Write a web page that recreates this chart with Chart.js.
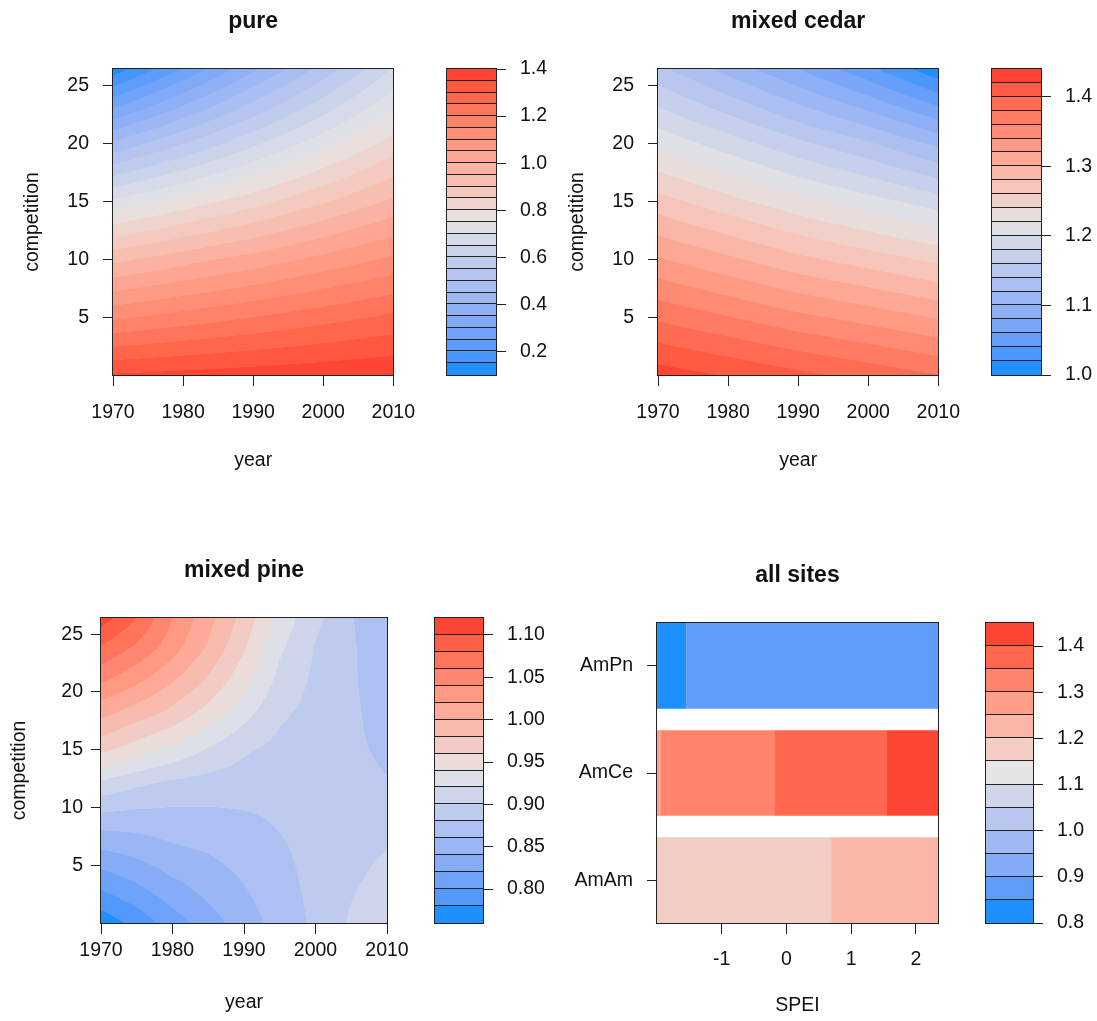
<!DOCTYPE html>
<html>
<head>
<meta charset="utf-8">
<title>Filled contour panels</title>
<script src="https://cdn.jsdelivr.net/npm/chart.js@4.4.1/dist/chart.umd.min.js"></script>
<style>
  html, body { margin:0; padding:0; background:#ffffff; }
  body { width:1097px; height:1021px; position:relative; overflow:hidden; }
  canvas { position:absolute; display:block; }
</style>
</head>
<body>
<canvas id="main1"></canvas>
<canvas id="key1"></canvas>
<canvas id="main2"></canvas>
<canvas id="key2"></canvas>
<canvas id="main3"></canvas>
<canvas id="key3"></canvas>
<canvas id="main4"></canvas>
<canvas id="key4"></canvas>
<script>
// ================= DATA =================
const panelTitles = ['pure', 'mixed cedar', 'mixed pine', 'all sites'];
const yearTicks = [1970, 1980, 1990, 2000, 2010];
const yearTickLabels = ['1970', '1980', '1990', '2000', '2010'];
const competitionTicks = [5, 10, 15, 20, 25];
const competitionTickLabels = ['5', '10', '15', '20', '25'];

// grid for "pure" and "mixed cedar": columns = years, rows = competition
const yearsA = [1970, 1980, 1990, 2000, 2010];
const competitionA = [0, 5, 10, 15, 20, 26.45];
const pureZ = [
  [1.355, 1.365, 1.375, 1.385, 1.395],
  [1.14,  1.17,  1.20,  1.23,  1.26 ],
  [0.935, 0.98,  1.02,  1.065, 1.11 ],
  [0.71,  0.77,  0.83,  0.895, 0.96 ],
  [0.46,  0.55,  0.64,  0.73,  0.82 ],
  [0.12,  0.255, 0.39,  0.52,  0.655]
];
const cedarZ = [
  [1.430, 1.418, 1.405, 1.393, 1.380],
  [1.376, 1.361, 1.345, 1.332, 1.318],
  [1.322, 1.304, 1.285, 1.270, 1.255],
  [1.268, 1.247, 1.226, 1.208, 1.190],
  [1.214, 1.190, 1.165, 1.143, 1.115],
  [1.145, 1.113, 1.080, 1.045, 1.005]
];

// grid for "mixed pine"
const yearsB = [1970, 1975, 1980, 1985, 1990, 1995, 2000, 2005, 2010];
const competitionB = [0, 3, 6, 9, 12, 15, 18, 21, 24, 26.4];
const pineZ = [
  [0.767, 0.787, 0.810, 0.831, 0.850, 0.868, 0.884, 0.903, 0.912],
  [0.801, 0.816, 0.833, 0.847, 0.859, 0.873, 0.885, 0.898, 0.909],
  [0.835, 0.844, 0.855, 0.860, 0.868, 0.877, 0.886, 0.893, 0.901],
  [0.872, 0.871, 0.872, 0.874, 0.877, 0.882, 0.887, 0.888, 0.893],
  [0.914, 0.903, 0.895, 0.891, 0.889, 0.887, 0.888, 0.885, 0.881],
  [0.965, 0.950, 0.935, 0.918, 0.903, 0.894, 0.890, 0.883, 0.877],
  [1.004, 0.988, 0.972, 0.951, 0.926, 0.903, 0.893, 0.883, 0.873],
  [1.043, 1.025, 1.002, 0.977, 0.947, 0.914, 0.896, 0.882, 0.871],
  [1.080, 1.058, 1.030, 0.998, 0.963, 0.924, 0.899, 0.882, 0.869],
  [1.110, 1.080, 1.040, 1.007, 0.973, 0.933, 0.905, 0.881, 0.867]
];

// contour levels (colour key breaks)
const pureLevels  = [0.10,0.15,0.20,0.25,0.30,0.35,0.40,0.45,0.50,0.55,0.60,0.65,0.70,0.75,0.80,0.85,0.90,0.95,1.00,1.05,1.10,1.15,1.20,1.25,1.30,1.35,1.40];
const cedarLevels = [1.00,1.02,1.04,1.06,1.08,1.10,1.12,1.14,1.16,1.18,1.20,1.22,1.24,1.26,1.28,1.30,1.32,1.34,1.36,1.38,1.40,1.42,1.44];
const pineLevels  = [0.76,0.78,0.80,0.82,0.84,0.86,0.88,0.90,0.92,0.94,0.96,0.98,1.00,1.02,1.04,1.06,1.08,1.10,1.12];
const allLevels   = [0.80,0.85,0.90,0.95,1.00,1.05,1.10,1.15,1.20,1.25,1.30,1.35,1.40,1.45];

// colour key tick labels
const pureKeyTicks  = [0.2, 0.4, 0.6, 0.8, 1.0, 1.2, 1.4];
const pureKeyLabels = ['0.2', '0.4', '0.6', '0.8', '1.0', '1.2', '1.4'];
const cedarKeyTicks  = [1.0, 1.1, 1.2, 1.3, 1.4];
const cedarKeyLabels = ['1.0', '1.1', '1.2', '1.3', '1.4'];
const pineKeyTicks  = [0.80, 0.85, 0.90, 0.95, 1.00, 1.05, 1.10];
const pineKeyLabels = ['0.80', '0.85', '0.90', '0.95', '1.00', '1.05', '1.10'];
const allKeyTicks  = [0.8, 0.9, 1.0, 1.1, 1.2, 1.3, 1.4];
const allKeyLabels = ['0.8', '0.9', '1.0', '1.1', '1.2', '1.3', '1.4'];

// "all sites": SPEI segments per site
const sites = ['AmAm', 'AmCe', 'AmPn'];
const sitePositions = [1, 2, 3];
const speiTicks = [-1, 0, 1, 2];
const speiTickLabels = ['-1', '0', '1', '2'];
const amAmBreaks = [-2.0, 0.69, 2.34];
const amAmValues = [1.17, 1.22];
const amCeBreaks = [-2.0, -1.94, -0.19, 1.54, 2.34];
const amCeValues = [1.28, 1.32, 1.37, 1.42];
const amPnBreaks = [-2.0, -1.55, 2.34];
const amPnValues = [0.82, 0.87];

// ================= STYLE HELPERS =================
const FONT = '"Liberation Sans", Arial, Helvetica, sans-serif';
const TXT = '#111111';
const AX = '#222222';
const fnt = (size, weight) => ({ family: FONT, size: size, weight: weight || 'normal', lineHeight: 1.2 });
Chart.defaults.font.family = FONT;
Chart.defaults.color = TXT;

const paletteAnchors = ['#1E90FF', '#E5E5E5', '#FF4632'];

function hexToRgb(h) { return [parseInt(h.slice(1,3),16), parseInt(h.slice(3,5),16), parseInt(h.slice(5,7),16)]; }
function s2l(c) { c /= 255; return c <= 0.04045 ? c / 12.92 : Math.pow((c + 0.055) / 1.055, 2.4); }
function l2s(v) { v = Math.max(0, Math.min(1, v)); const c = v <= 0.0031308 ? 12.92 * v : 1.055 * Math.pow(v, 1/2.4) - 0.055; return Math.round(Math.max(0, Math.min(1, c)) * 255); }
function rgbToLab(rgb) {
  const R = s2l(rgb[0]), G = s2l(rgb[1]), B = s2l(rgb[2]);
  const X = (0.4124*R + 0.3576*G + 0.1805*B) / 0.95047;
  const Y = (0.2126*R + 0.7152*G + 0.0722*B);
  const Z = (0.0193*R + 0.1192*G + 0.9505*B) / 1.08883;
  const f = t => t > 0.008856 ? Math.cbrt(t) : 7.787*t + 16/116;
  const fx = f(X), fy = f(Y), fz = f(Z);
  return [116*fy - 16, 500*(fx - fy), 200*(fy - fz)];
}
function labToRgb(lab) {
  const fy = (lab[0] + 16) / 116, fx = fy + lab[1] / 500, fz = fy - lab[2] / 200;
  const fi = t => (t*t*t > 0.008856) ? t*t*t : (t - 16/116) / 7.787;
  const X = fi(fx) * 0.95047, Y = fi(fy), Z = fi(fz) * 1.08883;
  return [l2s(3.2406*X - 1.5372*Y - 0.4986*Z), l2s(-0.9689*X + 1.8758*Y + 0.0415*Z), l2s(0.0557*X - 0.2040*Y + 1.0570*Z)];
}
const anchorLab = paletteAnchors.map(h => rgbToLab(hexToRgb(h)));
function rampColor(t) {
  const seg = t <= 0.5 ? 0 : 1;
  const u = seg === 0 ? t / 0.5 : (t - 0.5) / 0.5;
  const a = anchorLab[seg], b = anchorLab[seg + 1];
  return labToRgb([a[0] + (b[0]-a[0])*u, a[1] + (b[1]-a[1])*u, a[2] + (b[2]-a[2])*u]);
}
function bandColors(n) { const out = []; for (let i = 0; i < n; i++) out.push(rampColor(n === 1 ? 0 : i / (n - 1))); return out; }
const css = c => 'rgb(' + c[0] + ',' + c[1] + ',' + c[2] + ')';
function bandIndex(levels, v) {
  const n = levels.length - 1;
  if (v < levels[0]) return 0;
  for (let k = 0; k < n; k++) if (v < levels[k + 1]) return k;
  return n - 1;
}
function locate(arr, v) {
  const n = arr.length;
  if (v <= arr[0]) return [0, 0];
  if (v >= arr[n - 1]) return [n - 2, 1];
  let i = 0; while (i < n - 2 && v > arr[i + 1]) i++;
  return [i, (v - arr[i]) / (arr[i + 1] - arr[i])];
}
function gridValue(g, xv, yv) {
  const a = locate(g.xs, xv), b = locate(g.ys, yv);
  const i = a[0], tx = a[1], j = b[0], ty = b[1];
  return g.z[j][i]*(1-tx)*(1-ty) + g.z[j][i+1]*tx*(1-ty) + g.z[j+1][i]*(1-tx)*ty + g.z[j+1][i+1]*tx*ty;
}

// ================= PLUGINS =================
const contourPlugin = {
  id: 'contourFill',
  beforeDatasetsDraw(chart) {
    const ds = chart.data.datasets[0];
    const g = ds && ds.contourGrid;
    if (!g) return;
    const ctx = chart.ctx, a = chart.chartArea, x = chart.scales.x, y = chart.scales.y;
    const L = Math.round(a.left), T = Math.round(a.top);
    const W = Math.round(a.right) - L, H = Math.round(a.bottom) - T;
    const img = ctx.createImageData(W, H), d = img.data;
    const xv = [];
    for (let i = 0; i < W; i++) xv.push(x.getValueForPixel(L + i + 0.5));
    for (let j = 0; j < H; j++) {
      const yv = y.getValueForPixel(T + j + 0.5);
      for (let i = 0; i < W; i++) {
        const c = g.colors[bandIndex(g.levels, gridValue(g, xv[i], yv))];
        const p = (j * W + i) * 4;
        d[p] = c[0]; d[p+1] = c[1]; d[p+2] = c[2]; d[p+3] = 255;
      }
    }
    const off = document.createElement('canvas');
    off.width = W; off.height = H;
    off.getContext('2d').putImageData(img, 0, 0);
    ctx.drawImage(off, L, T);
  }
};
const boxPlugin = {
  id: 'plotBox',
  afterDraw(chart) {
    const ctx = chart.ctx, a = chart.chartArea;
    const L = Math.round(a.left), T = Math.round(a.top), R = Math.round(a.right), B = Math.round(a.bottom);
    ctx.save(); ctx.strokeStyle = AX; ctx.lineWidth = 1;
    ctx.strokeRect(L - 0.5, T - 0.5, R - L + 1, B - T + 1);
    ctx.restore();
  }
};
const keyLinesPlugin = {
  id: 'keyLines',
  afterDatasetsDraw(chart) {
    const ctx = chart.ctx, a = chart.chartArea, y = chart.scales.y, dss = chart.data.datasets;
    ctx.save(); ctx.strokeStyle = AX; ctx.lineWidth = 1; ctx.beginPath();
    for (let i = 0; i < dss.length - 1; i++) {
      const py = Math.round(y.getPixelForValue(dss[i].data[0][1])) - 0.5;
      ctx.moveTo(a.left, py); ctx.lineTo(a.right, py);
    }
    ctx.stroke(); ctx.restore();
  }
};

function place(id, left, top, w, h) {
  const c = document.getElementById(id);
  c.width = w; c.height = h;
  c.style.left = left + 'px'; c.style.top = top + 'px';
  c.style.width = w + 'px'; c.style.height = h + 'px';
  return c;
}

function tickSetter(values) { return s => { s.ticks = values.map(v => ({ value: v })); }; }

// ================= CONTOUR PANELS =================
function contourChart(o) {
  const cvs = place(o.id, o.cx, o.cy, o.cw, o.ch);
  const points = [];
  o.ys.forEach((c, r) => o.xs.forEach((yr, k) => points.push({ x: yr, y: c, z: o.z[r][k] })));
  const ds = { data: points, pointRadius: 0, pointHoverRadius: 0, showLine: false };
  ds.contourGrid = { xs: o.xs, ys: o.ys, z: o.z, levels: o.levels, colors: bandColors(o.levels.length - 1) };
  return new Chart(cvs, {
    type: 'scatter',
    data: { datasets: [ds] },
    options: {
      responsive: false, animation: false, events: [],
      layout: { padding: { left: 0, right: o.cx + o.cw - o.area.R, top: 0, bottom: 0 } },
      plugins: {
        legend: { display: false }, tooltip: { enabled: false },
        title: { display: true, text: o.title, fullSize: false, font: fnt(23, 'bold'), color: TXT,
                 padding: { top: o.area.T - 47.5 - o.cy - 13.8, bottom: 33.7 } }
      },
      scales: {
        x: {
          type: 'linear', min: o.xs[0], max: o.xs[o.xs.length - 1], bounds: 'data',
          afterBuildTicks: tickSetter(yearTicks),
          afterFit: s => { s.height = o.cy + o.ch - o.area.B; },
          grid: { drawOnChartArea: false, drawTicks: true, tickLength: 11, tickColor: AX, tickWidth: 1 },
          border: { display: false },
          ticks: { font: fnt(19.5), color: TXT, padding: o.xPad, maxRotation: 0, autoSkip: false,
                   callback: (v, i) => yearTickLabels[i] },
          title: { display: true, text: 'year', font: fnt(19.5), color: TXT, padding: { top: 0, bottom: o.xTitlePad } }
        },
        y: {
          type: 'linear', min: 0, max: o.yMax, bounds: 'data',
          afterBuildTicks: tickSetter(competitionTicks),
          afterFit: s => { s.width = o.area.L - o.cx; },
          grid: { drawOnChartArea: false, drawTicks: true, tickLength: 10, tickColor: AX, tickWidth: 1 },
          border: { display: false },
          ticks: { font: fnt(19.5), color: TXT, padding: o.yPad, autoSkip: false,
                   callback: (v, i) => competitionTickLabels[i] },
          title: { display: true, text: 'competition', font: fnt(19.5), color: TXT, padding: { top: o.yTitlePad, bottom: 0 } }
        }
      }
    },
    plugins: [contourPlugin, boxPlugin]
  });
}

// ================= COLOUR KEYS =================
function keyChart(o) {
  const cvs = place(o.id, o.cx, o.cy, o.cw, o.ch);
  const colors = bandColors(o.levels.length - 1);
  const datasets = [];
  for (let i = 0; i < o.levels.length - 1; i++) {
    datasets.push({ data: [[o.levels[i], o.levels[i + 1]]], backgroundColor: css(colors[i]),
                    borderWidth: 0, barPercentage: 1, categoryPercentage: 1, grouped: false });
  }
  return new Chart(cvs, {
    type: 'bar',
    data: { labels: [''], datasets: datasets },
    options: {
      responsive: false, animation: false, events: [],
      layout: { padding: { left: o.area.L - o.cx, right: 0, top: o.area.T - o.cy, bottom: o.cy + o.ch - o.area.B } },
      plugins: { legend: { display: false }, tooltip: { enabled: false } },
      scales: {
        x: { display: false },
        y: {
          position: 'right', min: o.levels[0], max: o.levels[o.levels.length - 1], bounds: 'data',
          afterBuildTicks: tickSetter(o.ticks),
          afterFit: s => { s.width = o.cx + o.cw - o.area.R; },
          grid: { drawOnChartArea: false, drawTicks: true, tickLength: 10, tickColor: AX, tickWidth: 1 },
          border: { display: false },
          ticks: { font: fnt(19.5), color: TXT, padding: 14, autoSkip: false, callback: (v, i) => o.labels[i] }
        }
      }
    },
    plugins: [keyLinesPlugin, boxPlugin]
  });
}

// ---- panel 1: pure
contourChart({ id: 'main1', cx: 0, cy: 0, cw: 430, ch: 490, area: { L: 113, T: 69, R: 400, B: 375 },
  title: panelTitles[0], xs: yearsA, ys: competitionA, z: pureZ, levels: pureLevels, yMax: 26.45,
  xPad: 15, xTitlePad: 17.6, yPad: 14, yTitlePad: 21.3 });
keyChart({ id: 'key1', cx: 440, cy: 0, cw: 120, ch: 490, area: { L: 447, T: 69, R: 496, B: 375 },
  levels: pureLevels, ticks: pureKeyTicks, labels: pureKeyLabels });

// ---- panel 2: mixed cedar
contourChart({ id: 'main2', cx: 545, cy: 0, cw: 430, ch: 490, area: { L: 658, T: 69, R: 945, B: 375 },
  title: panelTitles[1], xs: yearsA, ys: competitionA, z: cedarZ, levels: cedarLevels, yMax: 26.45,
  xPad: 15, xTitlePad: 17.6, yPad: 14, yTitlePad: 21.3 });
keyChart({ id: 'key2', cx: 985, cy: 0, cw: 112, ch: 490, area: { L: 992, T: 69, R: 1041, B: 375 },
  levels: cedarLevels, ticks: cedarKeyTicks, labels: cedarKeyLabels });

// ---- panel 3: mixed pine
contourChart({ id: 'main3', cx: 0, cy: 521, cw: 430, ch: 500, area: { L: 101, T: 618, R: 387, B: 923 },
  title: panelTitles[2], xs: yearsB, ys: competitionB, z: pineZ, levels: pineLevels, yMax: 26.4,
  xPad: 5, xTitlePad: 6.5, yPad: 8, yTitlePad: 7.5 });
keyChart({ id: 'key3', cx: 425, cy: 521, cw: 120, ch: 500, area: { L: 435, T: 618, R: 483, B: 923 },
  levels: pineLevels, ticks: pineKeyTicks, labels: pineKeyLabels });

// ---- panel 4: all sites (SPEI image)
(function () {
  const cvs = place('main4', 545, 521, 430, 500);
  const area = { L: 657, T: 623, R: 938, B: 923 };
  const colors = bandColors(allLevels.length - 1);
  const colorOf = v => css(colors[bandIndex(allLevels, v)]);
  const rows = [
    { pos: sitePositions[0], breaks: amAmBreaks, values: amAmValues },
    { pos: sitePositions[1], breaks: amCeBreaks, values: amCeValues },
    { pos: sitePositions[2], breaks: amPnBreaks, values: amPnValues }
  ];
  const datasets = rows.map(r => ({
    data: r.values.map((v, i) => ({ x: [r.breaks[i], r.breaks[i + 1]], y: r.pos })),
    backgroundColor: r.values.map(colorOf),
    borderWidth: 0, barPercentage: 0.8, categoryPercentage: 1, grouped: false
  }));
  new Chart(cvs, {
    type: 'bar',
    data: { datasets: datasets },
    options: {
      indexAxis: 'y', responsive: false, animation: false, events: [],
      layout: { padding: { left: 0, right: 545 + 430 - area.R, top: 0, bottom: 0 } },
      plugins: {
        legend: { display: false }, tooltip: { enabled: false },
        title: { display: true, text: panelTitles[3], fullSize: false, font: fnt(23, 'bold'), color: TXT,
                 padding: { top: area.T - 47.5 - 521 - 13.8, bottom: 33.7 } }
      },
      scales: {
        x: {
          type: 'linear', position: 'bottom', min: -2.0, max: 2.34, bounds: 'data', offset: false,
          afterBuildTicks: tickSetter(speiTicks),
          afterFit: s => { s.height = 521 + 500 - area.B; },
          grid: { offset: false, drawOnChartArea: false, drawTicks: true, tickLength: 11, tickColor: AX, tickWidth: 1 },
          border: { display: false },
          ticks: { font: fnt(19.5), color: TXT, padding: 14, maxRotation: 0, autoSkip: false, callback: (v, i) => speiTickLabels[i] },
          title: { display: true, text: 'SPEI', font: fnt(19.5), color: TXT, padding: { top: 0, bottom: 3.8 } }
        },
        y: {
          type: 'linear', position: 'left', min: 0.6, max: 3.4, bounds: 'data', offset: false,
          afterBuildTicks: tickSetter(sitePositions),
          afterFit: s => { s.width = area.L - 545; },
          grid: { offset: false, drawOnChartArea: false, drawTicks: true, tickLength: 10, tickColor: AX, tickWidth: 1 },
          border: { display: false },
          ticks: { font: fnt(19.5), color: TXT, padding: 14, autoSkip: false, callback: (v, i) => sites[i] }
        }
      }
    },
    plugins: [boxPlugin]
  });
})();
keyChart({ id: 'key4', cx: 977, cy: 521, cw: 120, ch: 500, area: { L: 986, T: 623, R: 1033, B: 923 },
  levels: allLevels, ticks: allKeyTicks, labels: allKeyLabels });
</script>
</body>
</html>
